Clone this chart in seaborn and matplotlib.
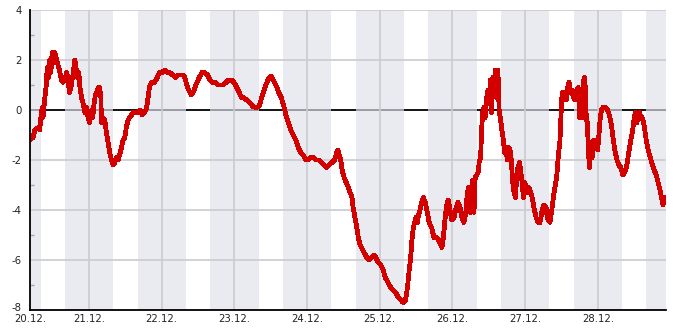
import matplotlib
matplotlib.use("Agg")
import matplotlib.pyplot as plt
import matplotlib.transforms as mtransforms
import seaborn as sns
import pandas as pd

# hours since 20.12. 00:00
hours = [4.4, 5.5, 6.1, 7.2, 7.7, 8.1, 8.5, 8.8, 9.4, 9.8, 10.2, 10.7, 11.0, 11.4, 11.8, 12.2, 12.7, 13.1, 13.5, 14.0,
         14.4, 14.9, 15.4, 16.0, 16.6, 17.1, 17.5, 18.0, 18.4, 18.8, 19.3, 19.7, 20.1, 20.6, 21.0, 21.5, 22.0, 22.6,
         23.1, 23.7, 24.2, 24.8, 25.2, 25.7, 26.1, 26.5, 27.0, 27.5, 27.9, 28.1, 28.6, 29.2, 29.7, 30.3, 30.8, 31.4,
         31.9, 32.5, 33.0, 33.6, 34.1, 34.7, 35.2, 35.8, 36.3, 36.9, 37.4, 38.0, 38.5, 39.1, 39.9, 40.8, 41.6, 42.4,
         43.0, 43.5, 43.9, 44.6, 45.5, 46.1, 46.5, 47.2, 48.1, 49.0, 49.8, 50.7, 51.6, 52.5, 53.4, 54.3, 55.1, 55.6,
         56.3, 56.9, 57.8, 58.7, 59.6, 60.4, 61.3, 62.2, 63.1, 63.9, 64.8, 65.7, 66.6, 67.5, 68.3, 69.2, 70.1, 71.0,
         71.9, 72.8, 73.6, 74.3, 74.9, 76.1, 77.1, 78.0, 79.1, 80.2, 81.0, 81.8, 82.7, 83.5, 84.2, 84.8, 85.7, 86.6,
         87.5, 88.4, 89.0, 89.8, 90.6, 91.4, 92.3, 93.1, 93.9, 94.7, 95.6, 96.4, 97.2, 98.0, 98.9, 99.8, 100.7, 101.6,
         102.5, 103.3, 104.2, 105.1, 105.8, 106.2, 106.6, 107.1, 107.7, 108.5, 109.3, 110.2, 110.8, 111.2, 111.8,
         112.4, 112.9, 113.5, 114.0, 114.8, 115.7, 116.5, 117.3, 118.1, 118.7, 119.5, 120.3, 121.1, 121.8, 122.7,
         123.6, 124.4, 125.3, 126.1, 126.9, 127.7, 128.5, 128.9, 129.3, 129.7, 130.2, 130.6, 131.1, 131.5, 131.9,
         132.4, 132.8, 133.3, 133.8, 134.4, 135.0, 135.7, 136.3, 137.1, 137.9, 138.8, 139.4, 140.1, 140.5, 141.0,
         141.5, 142.1, 142.6, 143.2, 143.7, 144.5, 145.2, 145.8, 146.5, 147.1, 147.8, 148.4, 148.9, 149.3, 149.8,
         150.2, 150.7, 151.1, 151.5, 152.0, 152.5, 152.8, 153.3, 153.6, 154.0, 154.4, 154.8, 155.3, 155.7, 156.2,
         156.5, 156.9, 157.3, 157.7, 158.1, 158.6, 159.0, 159.4, 159.9, 160.3, 160.8, 161.2, 161.6, 162.1, 162.5,
         163.0, 163.4, 163.9, 164.3, 164.8, 165.2, 165.6, 166.1, 166.5, 167.0, 167.4, 167.9, 168.3, 168.7, 169.2,
         169.6, 170.3, 170.9, 171.6, 172.3, 172.9, 173.6, 174.2, 174.9, 175.3, 175.6, 176.2, 176.8, 177.3, 177.8,
         178.4, 178.9, 179.5, 179.8, 180.2, 180.7, 181.1, 181.6, 182.0, 182.5, 182.9, 183.4, 183.9, 184.4, 185.0,
         185.5, 186.0, 186.4, 186.9, 187.3, 187.7, 188.2, 188.6, 188.8, 189.3, 189.7, 190.1, 190.6, 191.0, 191.4,
         191.9, 192.3, 192.8, 193.2, 193.7, 194.5, 195.2, 195.8, 196.5, 197.0, 197.6, 198.3, 198.9, 199.6, 200.2,
         200.9, 201.6, 202.2, 202.9, 203.5, 204.0, 204.5, 204.9, 205.3, 205.8, 206.2, 206.6, 207.1, 207.5, 208.1,
         208.6, 209.3, 210.0, 210.6, 211.3, 211.9, 212.5, 213.0, 213.5, 213.9, 214.4]

temps = [-1.2, -1.1, -0.8, -0.7, -0.8, -0.3, 0.1, -0.3, 0.5, 0.9, 1.7, 1.3, 2.0, 1.5, 2.3, 1.9, 2.3, 2.1, 1.9, 1.7,
         1.5, 1.2, 1.1, 1.2, 1.5, 1.2, 0.7, 0.9, 1.2, 1.5, 2.0, 1.7, 1.3, 1.5, 0.9, 0.5, 0.3, -0.1,
         0.1, -0.3, -0.5, 0.0, -0.3, 0.3, 0.6, 0.7, 0.9, 0.9, 0.5, -0.5, -0.3, -0.4, -0.9, -1.3, -1.7, -2.0,
         -2.2, -2.1, -1.9, -2.0, -1.8, -1.5, -1.2, -1.1, -0.7, -0.4, -0.3, -0.2, -0.1, -0.1, -0.1, 0.0, -0.2, -0.1,
         0.1, 0.5, 0.9, 1.1, 1.1, 1.2, 1.3, 1.5, 1.5, 1.6, 1.5, 1.5, 1.4, 1.3, 1.4, 1.4, 1.4, 1.3,
         1.0, 0.8, 0.6, 0.8, 1.1, 1.3, 1.5, 1.5, 1.4, 1.2, 1.1, 1.1, 1.0, 1.0, 1.0, 1.1, 1.2, 1.2,
         1.1, 0.9, 0.7, 0.5, 0.5, 0.4, 0.3, 0.15, 0.1, 0.15, 0.5, 0.8, 1.1, 1.3, 1.35, 1.2, 1.0, 0.7,
         0.5, 0.1, -0.2, -0.5, -0.8, -1.0, -1.2, -1.5, -1.7, -1.8, -2.0, -2.0, -1.9, -1.9, -2.0, -2.0, -2.1, -2.2,
         -2.3, -2.2, -2.1, -2.0, -1.7, -1.6, -1.8, -2.0, -2.5, -2.8, -3.0, -3.3, -3.5, -3.9, -4.3,
         -4.7, -5.1, -5.4, -5.5, -5.7, -5.9, -6.0, -5.9, -5.8, -5.9, -6.1, -6.2, -6.4, -6.7, -6.9,
         -7.1, -7.2, -7.3, -7.5, -7.6, -7.7, -7.6, -7.3, -6.9, -6.4, -5.9, -5.2, -4.7, -4.5, -4.3,
         -4.5, -4.2, -4.0, -3.7, -3.5, -3.7, -4.1, -4.5, -4.7, -5.1, -5.1, -5.2, -5.4, -5.5, -5.1,
         -4.4, -3.8, -3.6, -4.0, -4.4, -4.3, -3.9, -3.7, -3.9, -4.3, -4.5, -4.1, -3.3, -3.1, -4.1,
         -3.2, -2.8, -4.1, -2.7, -2.6, -2.5, -2.1, -1.9, -0.8, -0.1, 0.1, -0.3, 0.5, 0.8, 0.3,
         1.2, -0.1, 1.3, 0.8, 1.6, 0.5, 1.6, 0.0, -0.4, -0.8, -1.2, -1.7, -1.5, -2.0, -1.5,
         -1.6, -2.0, -2.9, -3.3, -3.5, -2.7, -2.3, -2.1, -2.4, -2.9, -3.5, -2.9, -3.1, -3.3, -3.1,
         -3.2, -3.5, -3.9, -4.3, -4.5, -4.5, -4.0, -3.8, -3.9, -4.3, -4.4, -4.5, -4.0, -3.5, -3.1,
         -2.7, -1.9, -1.2, -0.3, 0.7, 0.4, 0.7, 0.4, 0.9, 1.1, 0.7, 0.8, 0.5, 0.4, 0.8,
         0.9, -0.3, 0.7, -0.3, 1.2, 1.3, -0.4, -0.5, -1.6, -2.3, -1.3, -1.9, -1.2, -1.5, -1.3,
         -1.6, -1.1, -0.3, 0.0, 0.1, 0.1, 0.0, -0.2, -0.6, -1.1, -1.6, -2.0, -2.2, -2.3, -2.6,
         -2.5, -2.2, -1.7, -1.2, -0.8, -0.3, -0.1, -0.5, -0.3, -0.1, -0.3, -0.3, -0.5, -0.8, -1.3,
         -1.6, -1.9, -2.2, -2.4, -2.6, -2.9, -3.2, -3.5, -3.8, -3.5, -3.7]

day_hours = [24, 48, 72, 96, 120, 144, 168, 192]
day_labels = ["21.12.", "22.12.", "23.12.", "24.12.", "25.12.", "26.12.", "27.12.", "28.12."]
start_label = "20.12."
x_start, x_end = 4.5, 214.5
y_ticks = [-8, -6, -4, -2, 0, 2, 4]
y_minor = [-7, -5, -3, -1, 1, 3]

df = pd.DataFrame({"h": hours, "t": temps})

sns.set_style("white")
plt.rcParams['font.family'] = ['DejaVu Sans']

fig = plt.figure(figsize=(6.85, 3.3), dpi=100)
ax = fig.add_axes([30 / 685, 20 / 330, 636 / 685, 300 / 330])

# night bands (16:00 - 08:00)
for mid in [0] + day_hours + [216]:
    ax.axvspan(mid - 8, mid + 8, color=(224 / 255, 225 / 255, 235 / 255), alpha=0.67, lw=0, zorder=1)

ax.axhline(0, color="black", lw=1.3, zorder=0.8)
for yv in y_ticks:
    if yv != 0:
        ax.axhline(yv, color="#cbcbcf", lw=1.2, zorder=1.5)
for xv in day_hours:
    ax.axvline(xv, color="#cbcbcf", lw=1.2, zorder=1.5)

sns.lineplot(data=df, x="h", y="t", ax=ax, color="#d40000", lw=2.7, estimator=None, sort=False,
             zorder=3, antialiased=False)

ax.set_xlim(x_start, x_end)
ax.set_ylim(-8, 4)
ax.set_xticks([x_start] + day_hours)
ax.set_xticklabels([start_label] + day_labels)
ax.set_yticks(y_ticks)
ax.set_yticklabels([str(v) for v in y_ticks])
ax.set_yticks(y_minor, minor=True)
ax.tick_params(axis="both", which="major", direction="in", length=4, width=1, labelsize=7.3,
               colors="black", labelcolor="#222222")
ax.tick_params(axis="y", which="major", pad=6)
ax.tick_params(axis="x", which="major", pad=3)
ax.tick_params(axis="y", which="minor", direction="in", length=3, width=1, left=True)
ax.set_xlabel("")
ax.set_ylabel("")
for s in ["top", "right"]:
    ax.spines[s].set_visible(False)
for s in ["left", "bottom"]:
    ax.spines[s].set_color("black")
    ax.spines[s].set_linewidth(1.3)
    ax.spines[s].set_zorder(4)

# lift the lowest y label a little, as in the reference
fig.canvas.draw()
low = ax.get_yticklabels()[0]
low.set_transform(low.get_transform() + mtransforms.ScaledTranslation(0, 2.5 / 72, fig.dpi_scale_trans))

fig.savefig("out.png", dpi=100)
